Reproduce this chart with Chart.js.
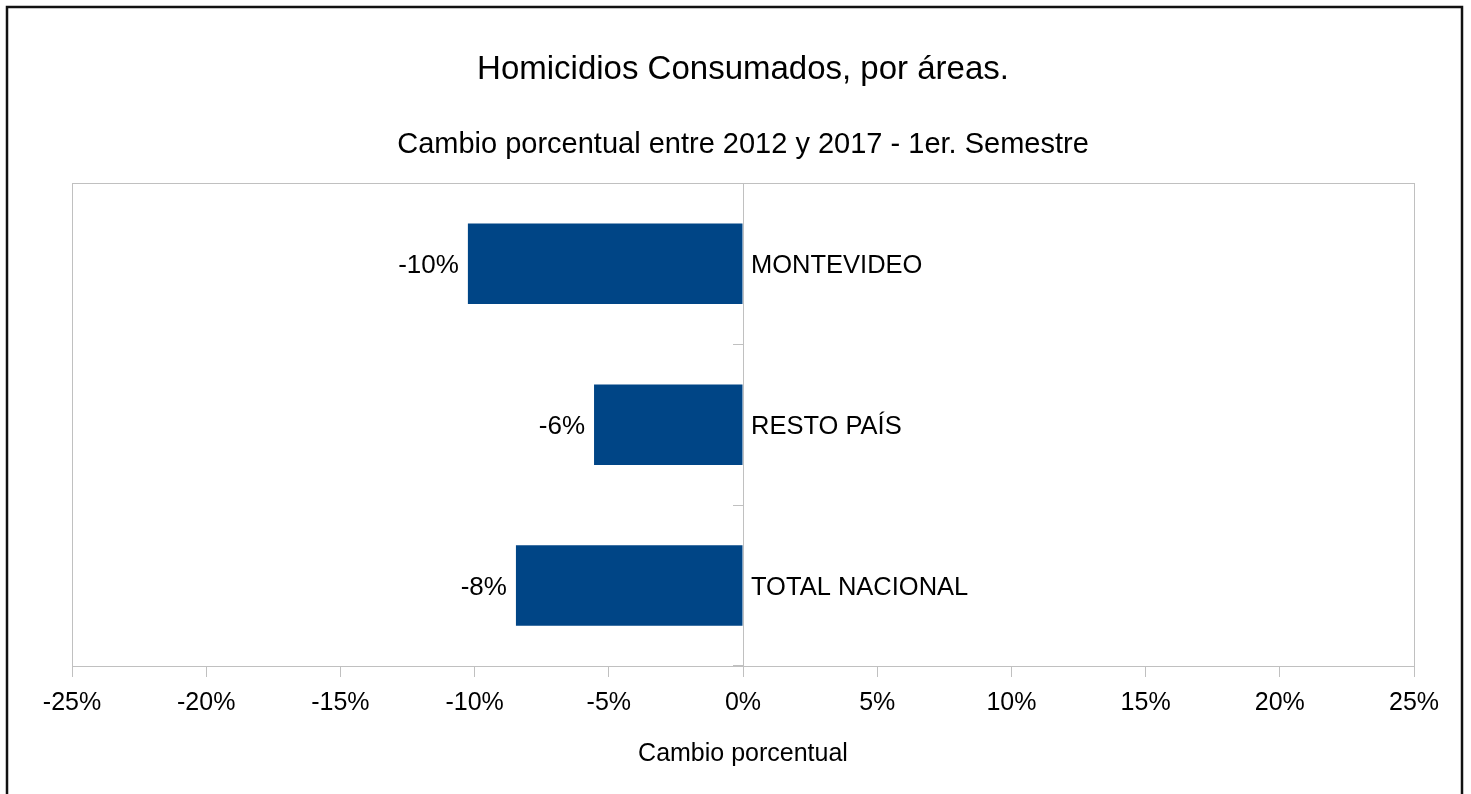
<!DOCTYPE html>
<html>
<head>
<meta charset="utf-8">
<title>Homicidios Consumados, por áreas</title>
<script src="https://cdn.jsdelivr.net/npm/chart.js@4/dist/chart.umd.min.js"></script>
<style>
  html, body { margin: 0; padding: 0; background: #fff; overflow: hidden; }
  #wrap { width: 1471px; height: 794px; }
</style>
</head>
<body>
<div id="wrap"><canvas id="chart" width="1471" height="794"></canvas></div>
<script>
/* ── data ─────────────────────────────────────────── */
const areas   = ['MONTEVIDEO', 'RESTO PAÍS', 'TOTAL NACIONAL'];
const cambio  = [-10.25, -5.55, -8.46];   // % change 2012 -> 2017, 1st semester
const xMin = -25, xMax = 25, xStep = 5;

const FONT = "'Liberation Sans', Arial, sans-serif";
const BAR  = '#004586';
const GRAY = '#c0c0c0';

/* ── plugins ──────────────────────────────────────── */
// outer black frame (runs past bottom edge like the original)
const outerFrame = {
  id: 'outerFrame',
  afterDraw(chart){
    const ctx = chart.ctx;
    ctx.save();
    ctx.strokeStyle = '#111';
    ctx.lineWidth = 2.5;
    ctx.strokeRect(7, 7, 1455, 900);
    ctx.restore();
  }
};

// light grey box around the plot area
const plotFrame = {
  id: 'plotFrame',
  beforeDatasetsDraw(chart){
    const {ctx, chartArea:a} = chart;
    ctx.save();
    ctx.strokeStyle = GRAY;
    ctx.lineWidth = 1;
    ctx.strokeRect(Math.round(a.left)+0.5, Math.round(a.top)+0.5,
                   Math.round(a.right-a.left), Math.round(a.bottom-a.top));
    ctx.restore();
  }
};

// value labels left of bar ends, category names right of zero line
const barLabels = {
  id: 'barLabels',
  afterDatasetsDraw(chart){
    const ctx = chart.ctx;
    const meta = chart.getDatasetMeta(0);
    const x0 = chart.scales.x.getPixelForValue(0);
    ctx.save();
    ctx.fillStyle = '#000';
    ctx.textBaseline = 'middle';
    meta.data.forEach((bar, i) => {
      const v = chart.data.datasets[0].data[i];
      ctx.font = '26px ' + FONT;
      ctx.textAlign = 'right';
      ctx.fillText(Math.round(v) + '%', bar.x - 9, bar.y + 2);
      ctx.font = '25.5px ' + FONT;
      ctx.textAlign = 'left';
      ctx.fillText(chart.data.labels[i], x0 + 8, bar.y + 2);
    });
    ctx.restore();
  }
};

/* ── chart ────────────────────────────────────────── */
new Chart(document.getElementById('chart').getContext('2d'), {
  type: 'bar',
  data: {
    labels: areas,
    datasets: [{
      label: 'Cambio porcentual',
      data: cambio,
      backgroundColor: BAR,
      borderWidth: 0,
      barPercentage: 0.5,
      categoryPercentage: 1.0,
    }]
  },
  options: {
    indexAxis: 'y',
    responsive: false,
    animation: false,
    layout: { padding: { left: 72, right: 57, top: 0, bottom: 0 } },
    plugins: {
      legend: { display: false },
      tooltip: { enabled: false },
      title: {
        display: true,
        text: 'Homicidios Consumados, por áreas.',
        color: '#000',
        font: { family: FONT, size: 33, weight: 'normal' },
        padding: { top: 50, bottom: 0 }
      },
      subtitle: {
        display: true,
        text: 'Cambio porcentual entre 2012 y 2017 - 1er. Semestre',
        color: '#000',
        font: { family: FONT, size: 29, weight: 'normal' },
        padding: { top: 38, bottom: 21 }
      }
    },
    scales: {
      x: {
        type: 'linear',
        min: xMin, max: xMax,
        grid: { drawOnChartArea: false, drawTicks: true, tickLength: 11, color: GRAY },
        border: { display: true, color: GRAY },
        ticks: {
          stepSize: xStep,
          padding: 11,
          color: '#000',
          font: { family: FONT, size: 25 },
          callback: v => v + '%'
        },
        title: {
          display: true,
          text: 'Cambio porcentual',
          color: '#000',
          font: { family: FONT, size: 25 },
          padding: { top: 10, bottom: 25 }
        }
      },
      y: {
        type: 'category',
        position: { x: 0 },
        grid: { drawOnChartArea: false, drawTicks: true, tickLength: 10, color: GRAY, offset: true },
        border: { display: true, color: GRAY },
        ticks: { display: false }
      }
    }
  },
  plugins: [outerFrame, plotFrame, barLabels]
});
</script>
</body>
</html>
